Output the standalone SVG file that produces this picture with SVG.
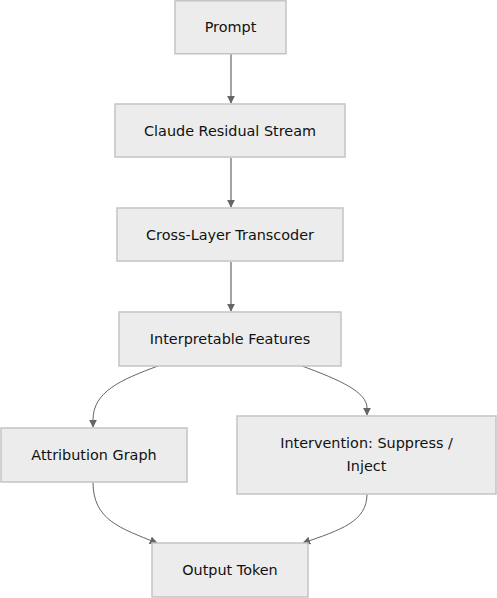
<svg xmlns="http://www.w3.org/2000/svg" width="497" height="598" viewBox="0 0 497 598">
<defs>
<marker id="arr" viewBox="0 0 10 10" refX="9" refY="5" markerWidth="8" markerHeight="8" markerUnits="userSpaceOnUse" orient="auto">
<path d="M0,0 L10,5 L0,10 z" fill="#666"/>
</marker>
<style>
.box{fill:#ececec;stroke:#c4c4c4;stroke-width:1.5}
.lbl{font-family:"DejaVu Sans","Liberation Sans",sans-serif;font-size:14.4px;fill:#111;text-anchor:middle;dominant-baseline:central}
.edge{fill:none;stroke:#666;stroke-width:1.2;marker-end:url(#arr)}
.curve{fill:none;stroke:#666;stroke-width:1;marker-end:url(#arr)}
</style>
</defs>
<rect width="497" height="598" fill="#fff"/>
<g id="connectors">
<path class="edge" d="M231,54 L231,103"/>
<path class="edge" d="M231,158 L231,207"/>
<path class="edge" d="M231,262 L231,311"/>
<path class="curve" d="M158,366 C120,380 93,392 93,420 L93,427"/>
<path class="curve" d="M302,366 C340,380 367,392 367,408 L367,415"/>
<path class="curve" d="M93,482 C93,520 120,528 157,543"/>
<path class="curve" d="M367,494 C367,522 340,530 303,543"/>
</g>
<g id="prompt"><rect class="box" x="175" y="0.75" width="111" height="53"/><text class="lbl" x="230.5" y="27">Prompt</text></g>
<g id="residual"><rect class="box" x="115" y="104" width="230" height="53"/><text class="lbl" x="230" y="130.5">Claude Residual Stream</text></g>
<g id="transcoder"><rect class="box" x="117" y="208" width="226" height="53"/><text class="lbl" x="230" y="234.5">Cross-Layer Transcoder</text></g>
<g id="features"><rect class="box" x="119" y="312" width="222" height="54"/><text class="lbl" x="230" y="338.5">Interpretable Features</text></g>
<g id="attribution"><rect class="box" x="1" y="428" width="186" height="54"/><text class="lbl" x="94" y="454.5">Attribution Graph</text></g>
<g id="intervention"><rect class="box" x="237" y="416" width="259" height="78"/><text class="lbl" x="366.5" y="443">Intervention: Suppress /</text><text class="lbl" x="366.5" y="466">Inject</text></g>
<g id="output"><rect class="box" x="152" y="543" width="156" height="54"/><text class="lbl" x="230" y="570">Output Token</text></g>
</svg>
